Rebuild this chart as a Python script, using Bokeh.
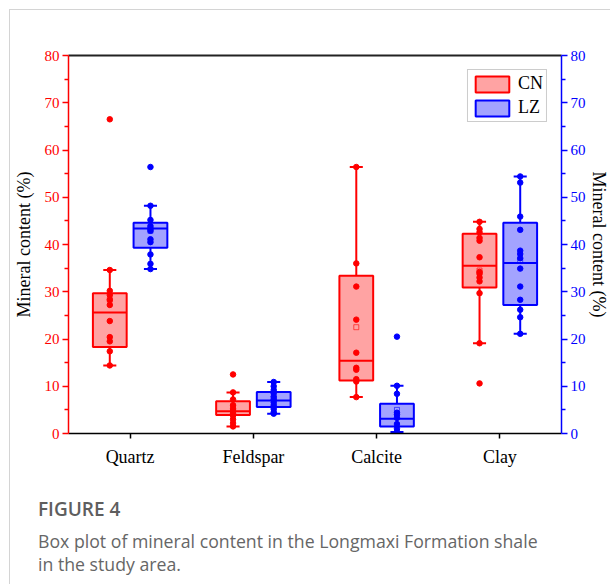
from bokeh.plotting import figure
from bokeh.models import (LinearAxis, FixedTicker, Range1d, Legend, LegendItem,
                          Div, ColumnDataSource)
from bokeh.layouts import column
from bokeh.embed import file_html
from bokeh.resources import INLINE

# ---- data -----------------------------------------------------------------
minerals = ["Quartz", "Feldspar", "Calcite", "Clay"]

# box statistics (lower whisker, Q1, median, Q3, upper whisker, mean), %
cn_low = [14.4, 1.5, 7.7, 19.1]
cn_q1 = [18.3, 3.9, 11.2, 30.9]
cn_med = [25.6, 4.7, 15.4, 35.5]
cn_q3 = [29.7, 6.8, 33.4, 42.3]
cn_high = [34.6, 8.7, 56.4, 44.8]
cn_mean = [28.3, 5.4, 22.5, 34.5]

lz_low = [34.8, 4.2, 0.3, 21.1]
lz_q1 = [39.3, 5.6, 1.5, 27.2]
lz_med = [43.4, 7.0, 3.1, 36.1]
lz_q3 = [44.6, 8.8, 6.3, 44.6]
lz_high = [48.2, 10.9, 10.1, 54.4]
lz_mean = [42.9, 7.4, 5.0, 36.5]

# individual samples, %
cn_quartz = [66.5, 34.6, 30.2, 29.3, 28.3, 27.2, 23.8, 20.4, 19.5, 17.4, 14.4]
cn_feldspar = [12.5, 8.7, 7.2, 6.0, 5.2, 4.7, 4.3, 3.8, 3.0, 2.2, 1.5]
cn_calcite = [56.4, 36.0, 31.1, 24.1, 17.1, 13.9, 13.5, 11.5, 11.0, 7.7]
cn_clay = [44.8, 43.3, 42.6, 41.4, 40.8, 37.3, 34.2, 33.8, 33.0, 32.2, 29.7, 19.1, 10.6]

lz_quartz = [56.4, 48.2, 45.2, 43.9, 43.4, 42.9, 41.1, 40.5, 37.9, 35.9, 34.8]
lz_feldspar = [10.9, 10.0, 9.2, 8.5, 7.8, 7.2, 6.6, 6.0, 5.2, 4.5, 4.2]
lz_calcite = [20.5, 10.1, 8.4, 4.4, 4.0, 3.3, 2.0, 1.0, 0.3]
lz_clay = [54.4, 53.1, 45.9, 43.1, 38.7, 38.0, 37.1, 34.9, 31.1, 28.3, 26.2, 24.6, 21.1]

y_ticks = [0, 10, 20, 30, 40, 50, 60, 70, 80]
y_minor = [5, 15, 25, 35, 45, 55, 65, 75]

RED = "#ff0000"
BLUE = "#0000ff"
SERIF = "Liberation Serif"
CARD_LINE = "1px solid #d4d4d4"

# ---- figure ---------------------------------------------------------------
p = figure(width=601, height=470, output_backend="svg", toolbar_location=None,
           x_range=Range1d(0.5, 4.5), y_range=Range1d(0, 80),
           min_border_left=56, min_border_right=49, min_border_top=45,
           min_border_bottom=47, background_fill_color="white",
           border_fill_color="white", outline_line_color=None,
           margin=(9, 0, 0, 9))
p.styles = {"border-top": CARD_LINE, "border-left": CARD_LINE}
p.grid.visible = False

OFF = 0.165
BOX_W = 0.274
CAP = 0.053


def draw_group(xc, low, q1, med, q3, high, mean, samples, color):
    xs = [i + 1 + xc for i in range(len(low))]
    src = ColumnDataSource(dict(x=xs, low=low, q1=q1, med=med, q3=q3, high=high,
                                mean=mean,
                                xl=[x - BOX_W / 2 for x in xs],
                                xr=[x + BOX_W / 2 for x in xs],
                                cl=[x - CAP for x in xs],
                                cr=[x + CAP for x in xs]))
    # whiskers and caps
    p.segment("x", "q3", "x", "high", source=src, line_color=color, line_width=2)
    p.segment("x", "low", "x", "q1", source=src, line_color=color, line_width=2)
    p.segment("cl", "high", "cr", "high", source=src, line_color=color, line_width=2)
    p.segment("cl", "low", "cr", "low", source=src, line_color=color, line_width=2)
    # box
    box = p.vbar(x="x", width=BOX_W, bottom="q1", top="q3", source=src,
                 fill_color=color, fill_alpha=0.36, line_color=color, line_width=2)
    p.segment("xl", "med", "xr", "med", source=src, line_color=color, line_width=2)
    # mean marker
    p.scatter("x", "mean", source=src, marker="square", size=5,
              fill_color=None, line_color=color, line_alpha=0.6, line_width=1)
    # samples
    for i, vals in enumerate(samples):
        p.scatter([i + 1 + xc] * len(vals), vals, size=5.5, color=color)
    return box


cn_box = draw_group(-OFF, cn_low, cn_q1, cn_med, cn_q3, cn_high, cn_mean,
                    [cn_quartz, cn_feldspar, cn_calcite, cn_clay], RED)
lz_box = draw_group(OFF, lz_low, lz_q1, lz_med, lz_q3, lz_high, lz_mean,
                    [lz_quartz, lz_feldspar, lz_calcite, lz_clay], BLUE)

# ---- axes -----------------------------------------------------------------
xa = p.xaxis[0]
xa.ticker = FixedTicker(ticks=[1, 2, 3, 4])
xa.major_label_overrides = {i + 1: m for i, m in enumerate(minerals)}
xa.minor_tick_line_color = None
xa.major_tick_out = 5
xa.major_tick_in = 0
xa.axis_line_width = 1.5
xa.major_tick_line_width = 1.5
xa.axis_line_color = "black"
xa.major_label_text_font = SERIF
xa.major_label_text_font_size = "18px"
xa.major_label_text_color = "black"
xa.major_label_standoff = 8


def style_y(ax, color, standoff):
    ax.ticker = FixedTicker(ticks=y_ticks, minor_ticks=y_minor)
    ax.axis_line_color = color
    ax.axis_line_width = 1.5
    ax.major_tick_line_color = color
    ax.minor_tick_line_color = color
    ax.major_tick_line_width = 1.5
    ax.minor_tick_line_width = 1.5
    ax.major_tick_out = 6
    ax.major_tick_in = 0
    ax.minor_tick_out = 4
    ax.minor_tick_in = 0
    ax.major_label_text_color = color
    ax.major_label_text_font = SERIF
    ax.major_label_text_font_size = "15px"
    ax.major_label_standoff = 3
    ax.axis_label = "Mineral content (%)"
    ax.axis_label_text_font = SERIF
    ax.axis_label_text_font_style = "normal"
    ax.axis_label_text_font_size = "18px"
    ax.axis_label_text_color = "black"
    ax.axis_label_standoff = standoff


style_y(p.yaxis[0], RED, 8)
right_axis = LinearAxis()
style_y(right_axis, BLUE, 0)
p.add_layout(right_axis, "right")

top_axis = LinearAxis(ticker=FixedTicker(ticks=[]), axis_line_color="#222222",
                      axis_line_width=2, major_label_text_font_size="0px")
p.add_layout(top_axis, "above")

# ---- legend ---------------------------------------------------------------
legend = Legend(items=[LegendItem(label="CN", renderers=[cn_box]),
                       LegendItem(label="LZ", renderers=[lz_box])],
                location="top_right", margin=14, padding=3, spacing=3,
                glyph_width=42, glyph_height=20, label_standoff=5,
                label_text_font=SERIF, label_text_font_size="18px",
                label_text_color="black",
                border_line_color="#999999", border_line_width=1,
                background_fill_color="white", background_fill_alpha=1)
p.add_layout(legend)

# ---- caption --------------------------------------------------------------
caption_html = (
    "<div style=\"font-family:'Open Sans',sans-serif;color:#666666;padding-left:28px;\">"
    "<div style=\"font-size:19px;font-weight:600;line-height:24px;margin-top:18px;"
    "color:#5e5e5e;\">FIGURE 4</div>"
    "<div style=\"font-size:17.7px;line-height:23px;margin-top:9px;\">"
    "Box plot of mineral content in the Longmaxi Formation shale<br>"
    "in the study area.</div></div>"
)
caption = Div(text=caption_html, width=601, height=105, margin=(0, 0, 0, 9),
              styles={"border-left": CARD_LINE})

layout = column(p, caption, spacing=0)

open("out.html", "w").write(file_html(layout, INLINE))
